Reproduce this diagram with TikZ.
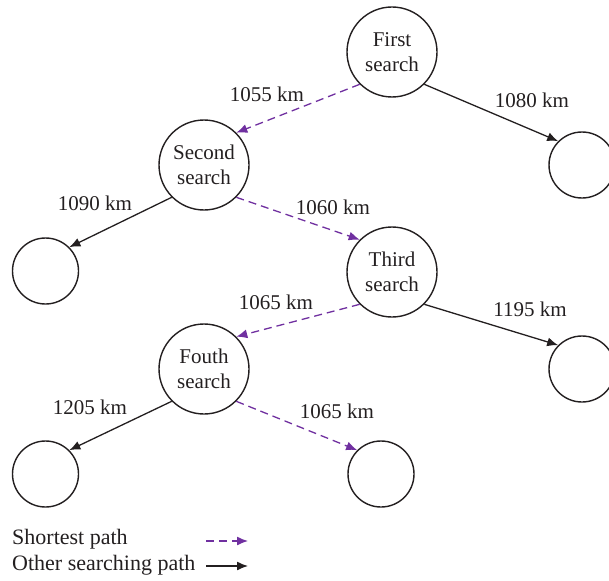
\documentclass[tikz,border=0pt]{standalone}
\usepackage{fontspec}
\setmainfont{Liberation Serif}
\usetikzlibrary{arrows.meta}
\definecolor{ink}{RGB}{35,31,32}
\definecolor{shortc}{RGB}{112,48,160}
\tikzset{
  every node/.style={font=\fontsize{21}{25}\selectfont, text=ink},
  searchnode/.style={circle, draw=ink, line width=1.4pt, minimum size=90pt, inner sep=0pt, align=center},
  leafnode/.style={circle, draw=ink, line width=1.4pt, minimum size=66pt, inner sep=0pt},
  shortpath/.style={draw=shortc, line width=1.3pt, dash pattern=on 8pt off 5pt,
    -{Latex[length=11pt,width=9pt]}},
  otherpath/.style={draw=ink, line width=1.3pt, -{Latex[length=11pt,width=9pt]}},
  dist/.style={inner sep=0pt},
  legendtext/.style={inner sep=0pt, anchor=west, font=\fontsize{22}{26}\selectfont}
}
\begin{document}
\begin{tikzpicture}[x=1pt,y=-1pt]
\useasboundingbox (0,0) rectangle (609,580);

% search tree
\node[searchnode] (s1) at (392,52) {First\\search};
\node[leafnode]   (r1) at (582,165) {};
\node[searchnode] (s2) at (204,165) {Second\\search};
\node[leafnode]   (l1) at (45.5,271) {};
\node[searchnode] (s3) at (392,272) {Third\\search};
\node[leafnode]   (r2) at (582,369) {};
\node[searchnode] (s4) at (204,369) {Fouth\\search};
\node[leafnode]   (l2) at (45.5,474) {};
\node[leafnode]   (m2) at (381,474) {};

% connectors
\draw[shortpath] (s1.225) -- (s2.45);
\draw[otherpath] (s1.315) -- (r1.135);
\draw[otherpath] (s2.225) -- (l1.45);
\draw[shortpath] (s2.315) -- (s3.135);
\draw[shortpath] (s3.225) -- (s4.45);
\draw[otherpath] (s3.315) -- (r2.135);
\draw[otherpath] (s4.225) -- (l2.45);
\draw[shortpath] (s4.315) -- (m2.135);

% distances
\node[dist] (d1) at (267,94)  {1055 km};
\node[dist] (d2) at (532,100) {1080 km};
\node[dist] (d3) at (95,203)  {1090 km};
\node[dist] (d4) at (333,207) {1060 km};
\node[dist] (d5) at (276,302) {1065 km};
\node[dist] (d6) at (530,309) {1195 km};
\node[dist] (d7) at (90,407)  {1205 km};
\node[dist] (d8) at (337,411) {1065 km};

% legend
\node[legendtext] (lg1) at (12,539) {Shortest path};
\node[legendtext] (lg2) at (12,565) {Other searching path};
\coordinate (a1) at (206,541);
\coordinate (b1) at (248,541);
\coordinate (a2) at (206,566);
\coordinate (b2) at (248,566);
\draw[shortpath] (a1) -- (b1);
\draw[otherpath] (a2) -- (b2);
\end{tikzpicture}
\end{document}
